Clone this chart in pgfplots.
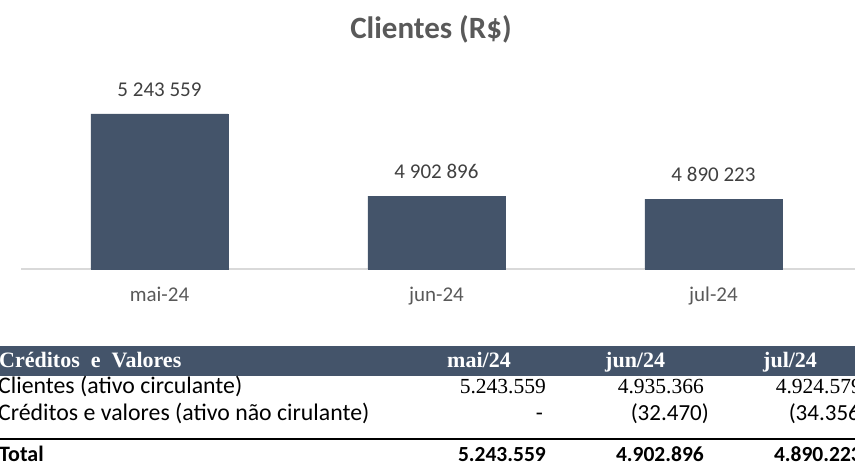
\documentclass[border=0pt]{standalone}
\usepackage{pgfplots}
\pgfplotsset{compat=1.18}
\usepackage{fontspec}
\setmainfont{Carlito}
\newfontfamily\tnr{Liberation Serif}

\definecolor{barblue}{HTML}{44546A}
\definecolor{titlegray}{HTML}{595959}
\definecolor{labelgray}{HTML}{404040}
\definecolor{axisgray}{HTML}{D9D9D9}

\pgfplotstableread{
x y
0 5243559
1 4902896
2 4890223
}\clientes

\begin{document}
\begin{tikzpicture}[x=1pt,y=1pt]
\useasboundingbox (0,0) rectangle (855,466);

% titulo
\node[anchor=base, text=titlegray, inner sep=0pt, font=\fontsize{31}{31}\selectfont\bfseries] at (431,427) {Clientes (R\$)};

\begin{axis}[
  at={(21pt,197pt)}, anchor=south west,
  scale only axis, width=839pt, height=192.7pt,
  xmin=-0.5, xmax=2.529, ymin=4600000, ymax=5400000,
  axis x line=bottom, axis y line=none,
  x axis line style={-, draw=axisgray, line width=1.5pt},
  xtick={0,1,2}, xticklabels={mai-24,jun-24,jul-24},
  major tick length=0pt, ytick=\empty,
  xticklabel style={anchor=base, yshift=-33pt, text=titlegray, font=\fontsize{21}{21}\selectfont},
  ybar, bar width=137pt,
  nodes near coords={\pgfmathprintnumber[fixed,precision=0,1000 sep={\ },assume math mode=true]{\pgfplotspointmeta}},
  point meta=y,
  every node near coord/.append style={anchor=south, inner sep=0pt, yshift=17pt, text=labelgray, font=\fontsize{21}{21}\selectfont},
  clip=false,
]
\addplot[fill=barblue, draw=barblue] table[x=x,y=y] {\clientes};
\end{axis}

% tabela
\fill[barblue] (0,90) rectangle (855,120);
\begin{scope}[every node/.style={inner sep=0pt}]
\node[anchor=base west, text=white, font=\fontsize{22}{22}\selectfont\tnr\bfseries] at (-1,98) {\spaceskip=0.5em Créditos e Valores};
\node[anchor=base west, text=white, font=\fontsize{22}{22}\selectfont\tnr\bfseries] at (447,98) {mai/24};
\node[anchor=base west, text=white, font=\fontsize{22}{22}\selectfont\tnr\bfseries] at (605,98) {jun/24};
\node[anchor=base west, text=white, font=\fontsize{22}{22}\selectfont\tnr\bfseries] at (763,98) {jul/24};

\node[anchor=base west, font=\fontsize{23.8}{23.8}\selectfont] at (-2,72) {Clientes (ativo circulante)};
\node[anchor=base east, font=\fontsize{21.5}{21.5}\selectfont\tnr] at (546,72) {5.243.559};
\node[anchor=base east, font=\fontsize{21.5}{21.5}\selectfont\tnr] at (704,72) {4.935.366};
\node[anchor=base east, font=\fontsize{21.5}{21.5}\selectfont\tnr] at (862,72) {4.924.579};

\node[anchor=base west, font=\fontsize{23.8}{23.8}\selectfont] at (-2,45) {Créditos e valores (ativo não cirulante)};
\node[anchor=base east, font=\fontsize{23}{23}\selectfont] at (543,45) {-};
\node[anchor=base east, font=\fontsize{23}{23}\selectfont] at (709,45) {(32.470)};
\node[anchor=base east, font=\fontsize{23}{23}\selectfont] at (867,45) {(34.356)};

\draw[black, line width=2pt] (0,27) -- (855,27);

\node[anchor=base west, font=\fontsize{22}{22}\selectfont\bfseries] at (-1,4) {Total};
\node[anchor=base east, font=\fontsize{21.5}{21.5}\selectfont\bfseries] at (546,4) {5.243.559};
\node[anchor=base east, font=\fontsize{21.5}{21.5}\selectfont\bfseries] at (704,4) {4.902.896};
\node[anchor=base east, font=\fontsize{21.5}{21.5}\selectfont\bfseries] at (862,4) {4.890.223};
\end{scope}
\end{tikzpicture}
\end{document}
